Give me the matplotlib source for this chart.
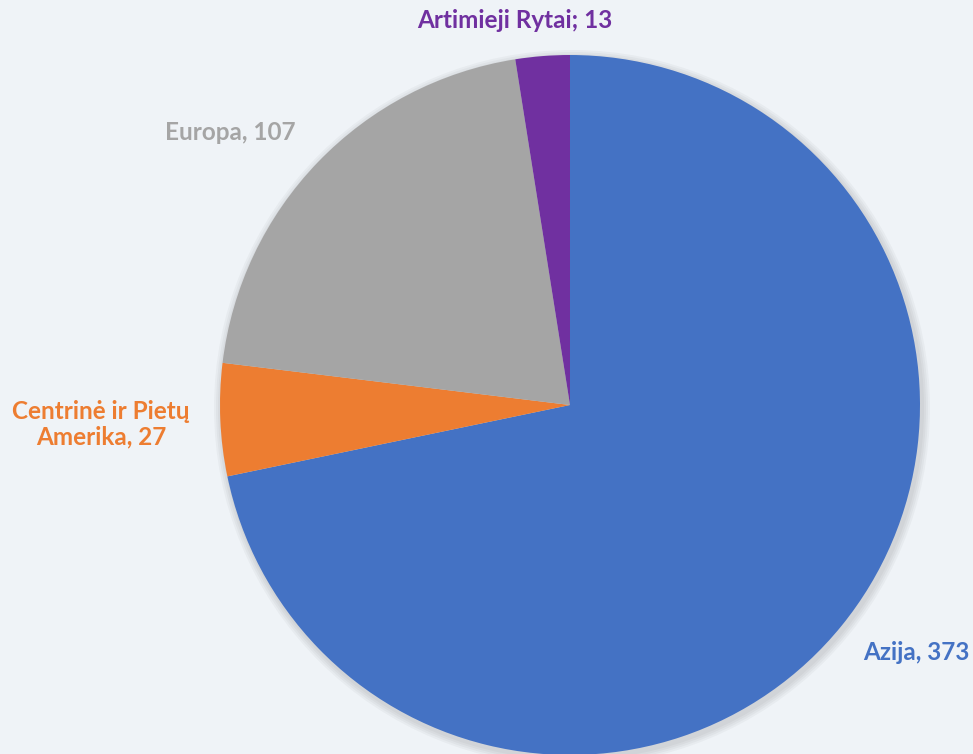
import matplotlib
matplotlib.use("Agg")
import matplotlib.pyplot as plt

categories = ["Azija", "Centrinė ir Pietų\nAmerika", "Europa", "Artimieji Rytai"]
values = [373, 27, 107, 13]
label_texts = ["Azija, 373", "Centrinė ir Pietų\nAmerika, 27", "Europa, 107", "Artimieji Rytai; 13"]
colors = ["#4472C4", "#ED7D31", "#A5A5A5", "#7030A0"]
bg = "#EFF3F7"

W, H = 973, 754
fig = plt.figure(figsize=(W / 100, H / 100), dpi=100, facecolor=bg)
ax = fig.add_axes([0, 0, 1, 1])
ax.set_facecolor(bg)

cx, cy, r = 570, H - 405, 350
# soft shadow
for i, a in enumerate([0.03, 0.03, 0.03, 0.03]):
    sh = plt.Circle((cx + 2, cy - 3), r + 2 + i * 2, color="black", alpha=a, lw=0, zorder=0)
    ax.add_patch(sh)

ax.pie(values, colors=colors, startangle=90, counterclock=False,
       center=(cx, cy), radius=r, frame=True,
       wedgeprops=dict(linewidth=0, zorder=2))
ax.set_xlim(0, W)
ax.set_ylim(0, H)
ax.set_aspect("equal")
ax.axis("off")

font = dict(family=["Lato", "DejaVu Sans"], fontweight="bold", fontsize=17.5)
label_pos = [(916, H - 652), (101, H - 424), (230, H - 133), (515, H - 20)]
for txt, (x, y), c in zip(label_texts, label_pos, colors):
    ax.text(x, y, txt, color=c, ha="center", va="center", linespacing=1.15, **font)

fig.savefig("out.png", dpi=100, facecolor=bg)
